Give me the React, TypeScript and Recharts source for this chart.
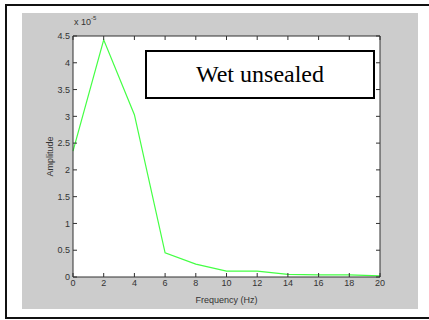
import {
  CartesianGrid,
  Label,
  Line,
  LineChart,
  XAxis,
  YAxis,
} from "recharts";

// Frequency (Hz) and amplitude (x 10^-5)
const frequencies = [0, 2, 4, 6, 8, 10, 12, 14, 16, 18, 20];
const amplitudes = [2.35, 4.43, 3.03, 0.45, 0.24, 0.11, 0.11, 0.05, 0.04, 0.04, 0.02];
const xTicks = [0, 2, 4, 6, 8, 10, 12, 14, 16, 18, 20];
const yTicks = [0, 0.5, 1, 1.5, 2, 2.5, 3, 3.5, 4, 4.5];
const title = "Wet unsealed";

const data = frequencies.map((f, i) => ({ f, a: amplitudes[i] }));

const AXIS = "#303030";
const FONT = "Arial, 'Liberation Sans', sans-serif";
const tickStyle = { fontSize: 9, fill: "#333", fontFamily: FONT };
const noTick = () => <g />;

export default function App() {
  return (
    <div
      style={{
        position: "absolute",
        left: 0,
        top: 0,
        width: 429,
        height: 320,
        overflow: "hidden",
        background: "#fff",
      }}
    >
      <div
        style={{
          position: "absolute",
          left: 5,
          top: 4,
          width: 440,
          height: 315,
          border: "2px solid #111",
          boxSizing: "border-box",
        }}
      />
      <div
        style={{
          position: "absolute",
          left: 22,
          top: 13,
          width: 396,
          height: 296,
          background: "#cccccc",
        }}
      >
        <LineChart
          width={396}
          height={296}
          data={data}
          margin={{ top: 23, right: 38, bottom: 0, left: 0 }}
        >
          <CartesianGrid horizontal={false} vertical={false} fill="#ffffff" />
          <XAxis
            dataKey="f"
            type="number"
            domain={[0, 20]}
            ticks={xTicks}
            height={32}
            stroke={AXIS}
            tickSize={-4}
            tickMargin={7}
            tick={tickStyle}
          >
            <Label
              value="Frequency (Hz)"
              position="insideBottom"
              offset={6}
              style={{ fontSize: 9, fill: "#333", fontFamily: FONT }}
            />
          </XAxis>
          <XAxis
            xAxisId="top"
            dataKey="f"
            orientation="top"
            type="number"
            domain={[0, 20]}
            ticks={xTicks}
            height={1}
            stroke={AXIS}
            tickSize={4}
            tick={noTick}
            mirror
          />
          <YAxis
            type="number"
            domain={[0, 4.5]}
            ticks={yTicks}
            width={51}
            stroke={AXIS}
            tickSize={-4}
            tickMargin={7}
            tick={tickStyle}
          >
            <Label
              value="Amplitude"
              angle={-90}
              position="center"
              dx={2}
              style={{ fontSize: 9, fill: "#333", fontFamily: FONT }}
            />
          </YAxis>
          <YAxis
            yAxisId="right"
            orientation="right"
            type="number"
            domain={[0, 4.5]}
            ticks={yTicks}
            width={1}
            stroke={AXIS}
            tickSize={4}
            tick={noTick}
            mirror
          />
          <Line
            dataKey="a"
            xAxisId="top"
            yAxisId="right"
            stroke="none"
            dot={false}
            legendType="none"
            isAnimationActive={false}
          />
          <Line
            dataKey="a"
            stroke="#44ff44"
            strokeWidth={1.2}
            dot={false}
            isAnimationActive={false}
          />
        </LineChart>
        <div
          style={{
            position: "absolute",
            left: 52,
            top: 2,
            fontSize: 9,
            color: "#333",
            fontFamily: FONT,
            whiteSpace: "nowrap",
          }}
        >
          x 10<sup style={{ fontSize: 6, verticalAlign: "5px" }}>-5</sup>
        </div>
        <div
          style={{
            position: "absolute",
            left: 123,
            top: 37,
            width: 230,
            height: 49,
            border: "2px solid #000",
            boxSizing: "border-box",
            background: "#fff",
            display: "flex",
            alignItems: "center",
            justifyContent: "center",
            fontFamily: "'Liberation Serif', 'Times New Roman', serif",
            fontSize: 24,
            color: "#000",
          }}
        >
          {title}
        </div>
      </div>
    </div>
  );
}
